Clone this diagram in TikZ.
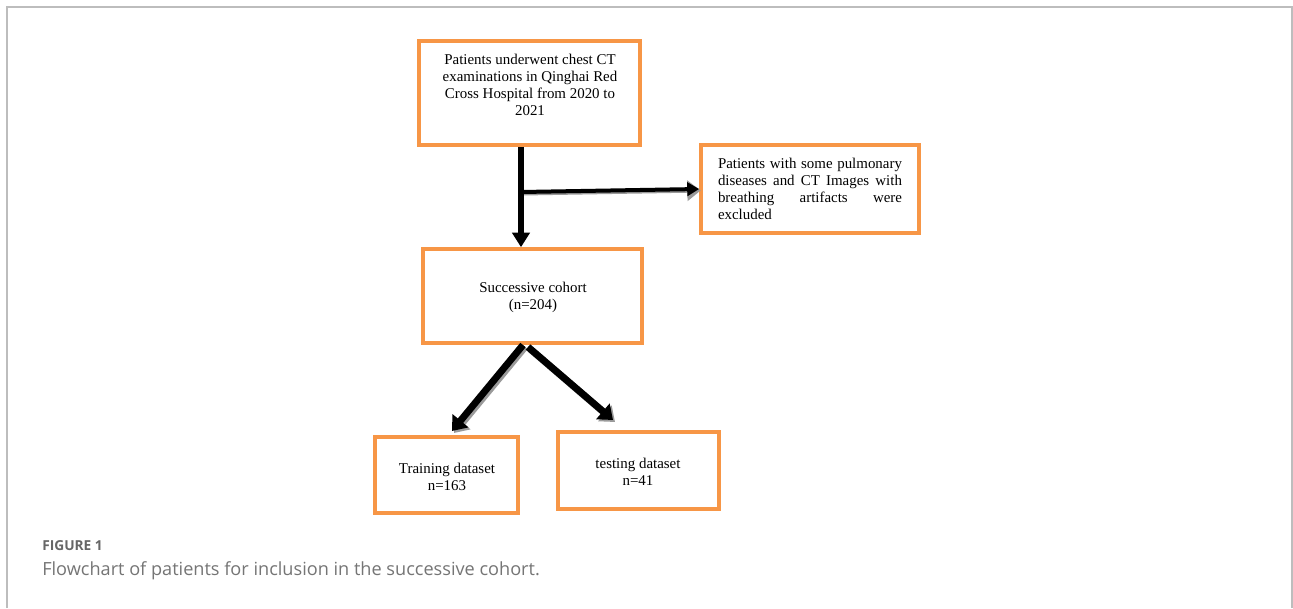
\documentclass[tikz,border=0pt]{standalone}
\usepackage{fontspec}
\setmainfont{Liberation Serif}
\newfontfamily\capfont{Open Sans}
\usetikzlibrary{arrows.meta}
\definecolor{boxorange}{HTML}{F79646}
\definecolor{framegray}{HTML}{BDBDBD}
\definecolor{capgray}{HTML}{666666}
\definecolor{shadowgray}{HTML}{9A9A9A}
\tikzset{
  px/.style={x=0.75pt,y=-0.75pt},
  flowbox/.style={draw=boxorange, line width=2.7pt, rectangle, inner sep=0pt},
  boxtext/.style={inner sep=0pt, font=\fontsize{11.2}{12.75}\selectfont},
  shadowarrow/.style={draw=shadowgray, line width=#1, -{Triangle[length=10pt,width=15pt]}},
}
\begin{document}
\begin{tikzpicture}[px]
\useasboundingbox (0,0) rectangle (1293,608);
\fill[white] (0,0) rectangle (1293,608);
% frame
\draw[framegray, line width=1.2pt] (7,608) -- (7,7) -- (1292,7) -- (1292,608);

% boxes
\node[flowbox, minimum width=221*0.75pt, minimum height=104*0.75pt] (top) at (529.5,93) {};
\node[flowbox, minimum width=218*0.75pt, minimum height=88*0.75pt] (excl) at (810,189) {};
\node[flowbox, minimum width=219*0.75pt, minimum height=94*0.75pt] (succ) at (532.5,296) {};
\node[flowbox, minimum width=143*0.75pt, minimum height=76*0.75pt] (train) at (446.5,475) {};
\node[flowbox, minimum width=161*0.75pt, minimum height=77*0.75pt] (test) at (638.5,470.5) {};

% texts
\node[boxtext, align=center] (toptext) at (530,84.5)
  {Patients underwent chest CT\\examinations in Qinghai Red\\Cross Hospital from 2020 to\\2021};
\node[boxtext, align=left] (excltext) at (810,189)
  {\makebox[138pt][s]{Patients with some pulmonary}\\
   \makebox[138pt][s]{diseases and CT Images with}\\
   \makebox[138pt][s]{breathing artifacts were}\\
   excluded\hspace*{\fill}};
\node[boxtext, align=center] (succtext) at (533,297.5) {Successive cohort\\(n=204)};
\node[boxtext, align=center] (traintext) at (447,476.5) {Training dataset\\n=163};
\node[boxtext, align=center] (testtext) at (638,472) {testing dataset\\n=41};

% connector coordinates
\coordinate (vsplit) at (521,192);
\coordinate (d1s) at (523,345);
\coordinate (d1e) at (452,431);
\coordinate (d2s) at (528,347);
\coordinate (d2e) at (613,420);

% shadows
\draw[shadowarrow=3pt] ([shift={(1.5,1.5)}]vsplit) -- ([shift={(1.5,1.5)}]excl.west);
\draw[shadowarrow=5.2pt] ([shift={(2,2)}]d1s) -- ([shift={(2,2)}]d1e);
\draw[shadowarrow=5.2pt] ([shift={(2,2)}]d2s) -- ([shift={(2,2)}]d2e);

% arrows
\draw[line width=3.8pt, -{Triangle[length=11pt,width=13pt]}] (top.south -| vsplit) -- (succ.north -| vsplit);
\draw[line width=3pt, -{Triangle[length=9pt,width=10pt]}] (vsplit) -- (excl.west);
\draw[line width=5.2pt, -{Triangle[length=10pt,width=15pt]}] (d1s) -- (d1e);
\draw[line width=5.2pt, -{Triangle[length=10pt,width=15pt]}] (d2s) -- (d2e);

% caption
\node[anchor=base west, inner sep=0pt, text=capgray, font=\capfont\fontsize{10.3}{12}\selectfont\bfseries] (figlabel) at (42,550) {FIGURE 1};
\node[anchor=base west, inner sep=0pt, text=capgray!90, font=\capfont\fontsize{13.6}{15}\selectfont] (caption) at (42,575) {Flowchart of patients for inclusion in the successive cohort.};
\end{tikzpicture}
\end{document}
